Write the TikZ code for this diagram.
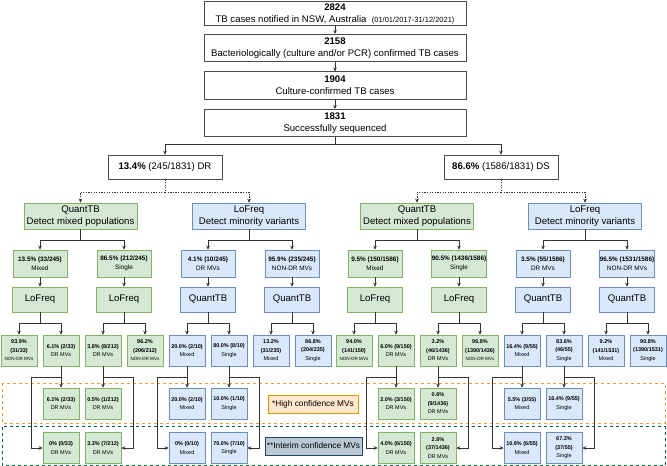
\documentclass[tikz,border=0pt]{standalone}
\usepackage{fontspec}
\setmainfont{Liberation Sans}
\usetikzlibrary{arrows.meta}
\definecolor{gfillc}{HTML}{D5E8D4}
\definecolor{glinec}{HTML}{82B366}
\definecolor{bfillc}{HTML}{DAE8FC}
\definecolor{blinec}{HTML}{6C8EBF}
\definecolor{ofillc}{HTML}{FFE6CC}
\definecolor{olinec}{HTML}{D79B00}
\definecolor{sfillc}{HTML}{BAC8D3}
\definecolor{slinec}{HTML}{23445D}
\definecolor{odashc}{HTML}{FF9933}
\definecolor{gdashc}{HTML}{006633}
\newcommand{\myfs}[2]{\fontsize{#1}{#2}\selectfont}
\newcommand{\mkbl}[2]{\textbf{#1}\\#2}
\newcommand{\mkblt}[3]{\textbf{#1}\\\textbf{#2}\\#3}
\newcommand{\nondr}{{\myfs{4.6}{8.5}NON-DR MVs}}
\begin{document}
\begin{tikzpicture}[x=1pt,y=-1pt,
  nbase/.style={inner sep=0pt, align=center, line width=0.6pt},
  topbox/.style={nbase, draw=black!70, fill=white, minimum width=262pt, font=\myfs{9.6}{12}},
  dbox/.style={nbase, draw=black!70, fill=white, minimum width=114pt, minimum height=24pt, font=\myfs{9.6}{12}},
  gcol/.style={fill=gfillc, draw=glinec},
  bcol/.style={fill=bfillc, draw=blinec},
  lvtwo/.style={nbase, minimum width=113pt, minimum height=26pt, font=\myfs{9.6}{12}},
  lvthree/.style={nbase, minimum width=54pt, minimum height=27pt, font=\myfs{6.4}{9}},
  lvfour/.style={nbase, minimum width=55pt, minimum height=25pt, font=\myfs{9.6}{12}},
  leaf/.style={nbase, minimum width=36pt, minimum height=31pt, font=\myfs{5.5}{8.5}},
  legend/.style={nbase, minimum height=18pt, font=\myfs{8.3}{10}},
  con/.style={line width=0.6pt, draw=black!80},
  arr/.style={con, -{Stealth[length=4pt,width=3.6pt]}},
  dcon/.style={con, dash pattern=on 1.3pt off 1.3pt},
  darr/.style={arr, dash pattern=on 1.3pt off 1.3pt},
]
\useasboundingbox (0,0) rectangle (667,466);
\fill[white] (0,0) rectangle (667,466);

% confidence bands
\draw[odashc, line width=1pt, dash pattern=on 3pt off 3pt] (2,383) rectangle (665,423);
\draw[gdashc, line width=1pt, dash pattern=on 3pt off 3pt] (2,426.5) rectangle (665,465);

% top chain
\node[topbox, minimum height=24pt] (t1) at (335,13.5) {\textbf{2824}\\TB cases notified in NSW, Australia\ \ {\myfs{7.5}{12}(01/01/2017-31/12/2021)}};
\node[topbox, minimum height=27.5pt] (t2) at (335,48) {\textbf{2158}\\Bacteriologically (culture and/or PCR) confirmed TB cases};
\node[topbox, minimum height=27.5pt] (t3) at (335,85.5) {\textbf{1904}\\Culture-confirmed TB cases};
\node[topbox, minimum height=27.5pt] (t4) at (335,123) {\textbf{1831}\\Successfully sequenced};
\draw[arr] (t1) -- (t2);
\draw[arr] (t2) -- (t3);
\draw[arr] (t3) -- (t4);

\coordinate (split) at (335,144);
\node[dbox] (dr) at (165,167) {\textbf{13.4\%} (245/1831) DR};
\node[dbox] (ds) at (501,167) {\textbf{86.6\%} (1586/1831) DS};
\draw[con] (t4) -- (split);
\draw[arr] (split) -| (dr);
\draw[arr] (split) -| (ds);

% ===== left half (DR) =====
\node[lvtwo,gcol] (Lq) at (80.5,216) {QuantTB\\Detect mixed populations};
\node[lvtwo,bcol] (Lf) at (249,216) {LoFreq\\Detect minority variants};
\coordinate (drs) at (165,192);
\draw[dcon] (dr) -- (drs);
\draw[darr] (drs) -| (Lq);
\draw[darr] (drs) -| (Lf);

\node[lvthree,gcol] (La) at (40,263.5) {\mkbl{13.5\% (33/245)}{Mixed}};
\node[lvthree,gcol] (Lb) at (124,263.5) {\mkbl{86.5\% (212/245)}{Single}};
\node[lvthree,bcol] (Lc) at (208,263.5) {\mkbl{4.1\% (10/245)}{DR MVs}};
\node[lvthree,bcol] (Ld) at (292,263.5) {\mkbl{95.9\% (235/245)}{NON-DR MVs}};
\draw[arr] (Lq.south) -- ++(0,11) -| (La);
\draw[arr] (Lq.south) -- ++(0,11) -| (Lb);
\draw[arr] (Lf.south) -- ++(0,11) -| (Lc);
\draw[arr] (Lf.south) -- ++(0,11) -| (Ld);

\node[lvfour,gcol] (La4) at (40,299.5) {LoFreq};
\node[lvfour,gcol] (Lb4) at (124,299.5) {LoFreq};
\node[lvfour,bcol] (Lc4) at (208,299.5) {QuantTB};
\node[lvfour,bcol] (Ld4) at (292,299.5) {QuantTB};
\draw[arr] (La) -- (La4);
\draw[arr] (Lb) -- (Lb4);
\draw[arr] (Lc) -- (Lc4);
\draw[arr] (Ld) -- (Ld4);

\node[leaf,gcol] (L5a) at (19,350.5) {\mkblt{93.9\%}{(31/33)}{\nondr}};
\node[leaf,gcol] (L5b) at (61,350.5) {\mkbl{6.1\% (2/33)}{DR MVs}};
\node[leaf,gcol] (L5c) at (103,350.5) {\mkbl{3.8\% (8/212)}{DR MVs}};
\node[leaf,gcol] (L5d) at (145,350.5) {\mkblt{96.2\%}{(206/212)}{\nondr}};
\node[leaf,bcol] (L5e) at (187,350.5) {\mkbl{20.0\% (2/10)}{Mixed}};
\node[leaf,bcol] (L5f) at (229,350.5) {\mkbl{80.0\% (8/10)}{Single}};
\node[leaf,bcol] (L5g) at (271,350.5) {\mkblt{13.2\%}{(31/235)}{Mixed}};
\node[leaf,bcol] (L5h) at (313,350.5) {\mkblt{86.8\%}{(204/235)}{Single}};
\draw[arr] (La4.south) -- ++(0,11) -| (L5a);
\draw[arr] (La4.south) -- ++(0,11) -| (L5b);
\draw[arr] (Lb4.south) -- ++(0,11) -| (L5c);
\draw[arr] (Lb4.south) -- ++(0,11) -| (L5d);
\draw[arr] (Lc4.south) -- ++(0,11) -| (L5e);
\draw[arr] (Lc4.south) -- ++(0,11) -| (L5f);
\draw[arr] (Ld4.south) -- ++(0,11) -| (L5g);
\draw[arr] (Ld4.south) -- ++(0,11) -| (L5h);

\node[leaf,gcol] (L6b) at (61,403.5) {\mkbl{6.1\% (2/33)}{DR MVs}};
\node[leaf,gcol] (L6c) at (103,403.5) {\mkbl{0.5\% (1/212)}{DR MVs}};
\node[leaf,bcol] (L6e) at (187,403.5) {\mkbl{20.0\% (2/10)}{Mixed}};
\node[leaf,bcol] (L6f) at (229,403.5) {\mkbl{10.0\% (1/10)}{Single}};
\node[leaf,gcol] (L7b) at (61,448) {\mkbl{0\% (0/33)}{DR MVs}};
\node[leaf,gcol] (L7c) at (103,448) {\mkbl{3.3\% (7/212)}{DR MVs}};
\node[leaf,bcol] (L7e) at (187,448) {\mkbl{0\% (0/10)}{Mixed}};
\node[leaf,bcol] (L7f) at (229,448) {\mkbl{70.0\% (7/10)}{Single}};
\draw[arr] (L5b) -- (L6b);
\draw[arr] (L5c) -- (L6c);
\draw[arr] (L5e) -- (L6e);
\draw[arr] (L5f) -- (L6f);
\draw[arr] (L5b.south) -- ++(0,11) -- ++(-30,0) |- (L7b.west);
\draw[arr] (L5c.south) -- ++(0,11) -- ++(30,0) |- (L7c.east);
\draw[arr] (L5e.south) -- ++(0,11) -- ++(-30,0) |- (L7e.west);
\draw[arr] (L5f.south) -- ++(0,11) -- ++(30,0) |- (L7f.east);

% legends
\node[legend, fill=ofillc, draw=olinec, minimum width=90pt] (hc) at (313,404) {*High confidence MVs};
\node[legend, fill=sfillc, draw=slinec, minimum width=97pt] (ic) at (313.5,446) {**Interim confidence MVs};

% ===== right half (DS) =====
\node[lvtwo,gcol] (Rq) at (417,216) {QuantTB\\Detect mixed populations};
\node[lvtwo,bcol] (Rf) at (585,216) {LoFreq\\Detect minority variants};
\coordinate (dss) at (501,192);
\draw[dcon] (ds) -- (dss);
\draw[darr] (dss) -| (Rq);
\draw[darr] (dss) -| (Rf);

\node[lvthree,gcol] (Ra) at (375,263.5) {\mkbl{9.5\% (150/1586)}{Mixed}};
\node[lvthree,gcol] (Rb) at (459,263.5) {\mkbl{90.5\% (1436/1586)}{Single}};
\node[lvthree,bcol] (Rc) at (543,263.5) {\mkbl{3.5\% (55/1586)}{DR MVs}};
\node[lvthree,bcol] (Rd) at (627,263.5) {\mkbl{96.5\% (1531/1586)}{NON-DR MVs}};
\draw[arr] (Rq.south) -- ++(0,11) -| (Ra);
\draw[arr] (Rq.south) -- ++(0,11) -| (Rb);
\draw[arr] (Rf.south) -- ++(0,11) -| (Rc);
\draw[arr] (Rf.south) -- ++(0,11) -| (Rd);

\node[lvfour,gcol] (Ra4) at (375,299.5) {LoFreq};
\node[lvfour,gcol] (Rb4) at (459,299.5) {LoFreq};
\node[lvfour,bcol] (Rc4) at (543,299.5) {QuantTB};
\node[lvfour,bcol] (Rd4) at (627,299.5) {QuantTB};
\draw[arr] (Ra) -- (Ra4);
\draw[arr] (Rb) -- (Rb4);
\draw[arr] (Rc) -- (Rc4);
\draw[arr] (Rd) -- (Rd4);

\node[leaf,gcol] (R5a) at (354,350.5) {\mkblt{94.0\%}{(141/150)}{\nondr}};
\node[leaf,gcol] (R5b) at (396,350.5) {\mkbl{6.0\% (9/150)}{DR MVs}};
\node[leaf,gcol] (R5c) at (438,350.5) {\mkblt{3.2\%}{(46/1436)}{DR MVs}};
\node[leaf,gcol] (R5d) at (480,350.5) {\mkblt{96.8\%}{(1390/1436)}{\nondr}};
\node[leaf,bcol] (R5e) at (522,350.5) {\mkbl{16.4\% (9/55)}{Mixed}};
\node[leaf,bcol] (R5f) at (564,350.5) {\mkblt{83.6\%}{(46/55)}{Single}};
\node[leaf,bcol] (R5g) at (606,350.5) {\mkblt{9.2\%}{(141/1531)}{Mixed}};
\node[leaf,bcol] (R5h) at (648,350.5) {\mkblt{90.8\%}{(1390/1531)}{Single}};
\draw[arr] (Ra4.south) -- ++(0,11) -| (R5a);
\draw[arr] (Ra4.south) -- ++(0,11) -| (R5b);
\draw[arr] (Rb4.south) -- ++(0,11) -| (R5c);
\draw[arr] (Rb4.south) -- ++(0,11) -| (R5d);
\draw[arr] (Rc4.south) -- ++(0,11) -| (R5e);
\draw[arr] (Rc4.south) -- ++(0,11) -| (R5f);
\draw[arr] (Rd4.south) -- ++(0,11) -| (R5g);
\draw[arr] (Rd4.south) -- ++(0,11) -| (R5h);

\node[leaf,gcol] (R6b) at (396,403.5) {\mkbl{2.0\% (3/150)}{DR MVs}};
\node[leaf,gcol] (R6c) at (438,403.5) {\mkblt{0.6\%}{(9/1436)}{DR MVs}};
\node[leaf,bcol] (R6e) at (522,403.5) {\mkbl{5.5\% (3/55)}{Mixed}};
\node[leaf,bcol] (R6f) at (564,403.5) {\mkbl{16.4\% (9/55)}{Single}};
\node[leaf,gcol] (R7b) at (396,448) {\mkbl{4.0\% (6/150)}{DR MVs}};
\node[leaf,gcol] (R7c) at (438,448) {\mkblt{2.6\%}{(37/1436)}{DR MVs}};
\node[leaf,bcol] (R7e) at (522,448) {\mkbl{10.9\% (6/55)}{Mixed}};
\node[leaf,bcol] (R7f) at (564,448) {\mkblt{67.3\%}{(37/55)}{Single}};
\draw[arr] (R5b) -- (R6b);
\draw[arr] (R5c) -- (R6c);
\draw[arr] (R5e) -- (R6e);
\draw[arr] (R5f) -- (R6f);
\draw[arr] (R5b.south) -- ++(0,11) -- ++(-30,0) |- (R7b.west);
\draw[arr] (R5c.south) -- ++(0,11) -- ++(30,0) |- (R7c.east);
\draw[arr] (R5e.south) -- ++(0,11) -- ++(-30,0) |- (R7e.west);
\draw[arr] (R5f.south) -- ++(0,11) -- ++(30,0) |- (R7f.east);
\end{tikzpicture}
\end{document}
